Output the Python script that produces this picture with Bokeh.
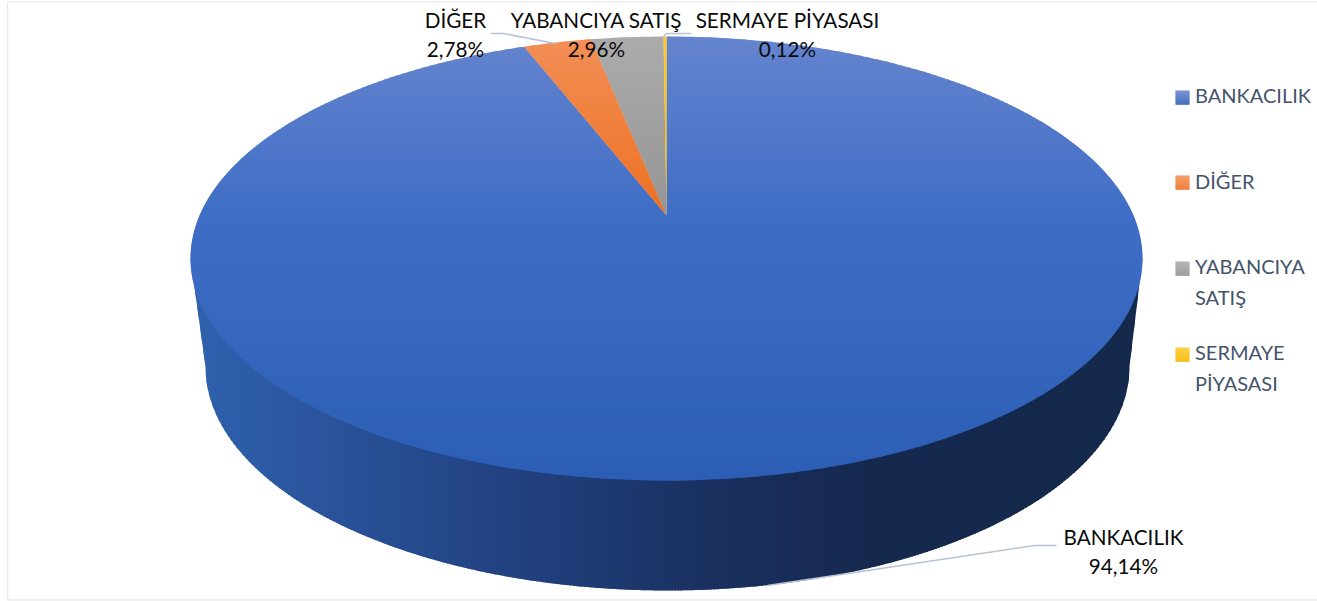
import math
import numpy as np
from bokeh.plotting import figure
from bokeh.models import Range1d, ColumnDataSource
from bokeh.core.properties import value
from bokeh.embed import file_html
from bokeh.resources import INLINE

# ---- data ----
categories = ["BANKACILIK", "DİĞER", "YABANCIYA SATIŞ", "SERMAYE PİYASASI"]
shares = [94.14, 2.78, 2.96, 0.12]
legend_lines = [["BANKACILIK"], ["DİĞER"], ["YABANCIYA", "SATIŞ"], ["SERMAYE", "PİYASASI"]]
slice_tops = ["#6584ce", "#f28f57", "#ababab", "#ffc933"]
slice_mids = ["#3f6ec6", "#ed7022", "#959595", "#f5b800"]
slice_bottoms = ["#2c5eb5", "#ed7022", "#959595", "#f5b800"]

# ---- layout (page pixels) ----
W, H = 1317, 601
APEX = (666.0, 215.0)
TOP_Y, BOT_Y = 36.0, 480.0
RIM_HALF_W = 476.0
c = ((BOT_Y - APEX[1]) - (APEX[1] - TOP_Y)) / ((BOT_Y - APEX[1]) + (APEX[1] - TOP_Y))
B = (APEX[1] - TOP_Y) * (1 + c)
A = RIM_HALF_W * math.sqrt(1 - c * c)


def rim(theta):
    u, v = math.sin(theta), math.cos(theta)
    w = 1 + c * v
    return APEX[0] + A * u / w, APEX[1] - B * v / w


def clip(poly, axis, lo, hi):
    def half(pts, keep, cut):
        out = []
        for i, a in enumerate(pts):
            b = pts[(i + 1) % len(pts)]
            ka, kb = keep(a), keep(b)
            if ka:
                out.append(a)
            if ka != kb:
                t = (cut - a[axis]) / (b[axis] - a[axis])
                out.append((a[0] + t * (b[0] - a[0]), a[1] + t * (b[1] - a[1])))
        return out
    pts = half(poly, lambda p: p[axis] >= lo, lo)
    return half(pts, lambda p: p[axis] <= hi, hi) if pts else []


def hex_rgb(h):
    return [int(h[i:i + 2], 16) for i in (1, 3, 5)]


def ramp(pos, stops_x, stops_c):
    rgb = [np.interp(pos, stops_x, [hex_rgb(s)[k] for s in stops_c]) for k in range(3)]
    return "#%02x%02x%02x" % tuple(int(round(x)) for x in rgb)


xs, ys, cols = [], [], []


def add_strips(poly, axis, lo, hi, step, color_at, overlap=1.5):
    v = lo
    while v < hi:
        piece = clip(poly, axis, v, v + step + overlap)
        if len(piece) >= 3:
            xs.append([q[0] for q in piece])
            ys.append([q[1] for q in piece])
            cols.append(color_at(v + step / 2))
        v += step


# side wall: lower rim joined to a smaller, lower ellipse
SIDE_CX, SIDE_CY, SIDE_RX, SIDE_RY = 667.0, 366.0, 462.0, 224.0
side = [(190.0, 258.0)]
for i in range(0, 181):
    a = math.pi - math.radians(i)
    side.append((SIDE_CX + SIDE_RX * math.cos(a), SIDE_CY + SIDE_RY * math.sin(a)))
side.append((1142.0, 258.0))
side_x = [190, 300, 480, 600, 680, 800, 880, 1143]
side_c = ["#2f62ae", "#2b569f", "#234485", "#1e3a72", "#1b3364", "#172b55", "#15294e", "#15294d"]
add_strips(side, 0, 188, 1144, 3, lambda v: ramp(v, side_x, side_c))

# top face: one polygon per slice, shaded in horizontal bands
start = 0.0
total = sum(shares)
for k, s in enumerate(shares):
    a0 = start / total * 2 * math.pi
    a1 = (start + s) / total * 2 * math.pi
    n = max(2, int(s * 4))
    poly = [APEX] + [rim(a0 + (a1 - a0) * j / n) for j in range(n + 1)]
    stops = [TOP_Y, APEX[1], BOT_Y]
    cs = [slice_tops[k], slice_mids[k], slice_bottoms[k]]
    add_strips(poly, 1, TOP_Y - 1, BOT_Y + 1, 2, lambda v, cs=cs: ramp(v, stops, cs), overlap=1.0)
    start += s

p = figure(width=W, height=H, x_range=Range1d(0, W), y_range=Range1d(H, 0),
           output_backend="svg", toolbar_location=None, min_border=0)
p.axis.visible = False
p.grid.visible = False
p.outline_line_color = None
p.background_fill_color = "white"
p.border_fill_color = "white"

# faint frame of the pasted picture
p.multi_line([[7, 1317], [7, 7], [7, 1317]], [[1.5, 1.5], [1.5, 599.5], [599.5, 599.5]],
             line_color="#ebebeb", line_width=1.5)

p.patches("x", "y", source=ColumnDataSource(dict(x=xs, y=ys, c=cols)),
          fill_color="c", line_color=None)

# leader lines
leaders_x = [[490, 503, 555], [691, 666, 663], [1056, 1034, 767]]
leaders_y = [[33, 33, 43], [33, 33, 36], [545, 545, 585]]
p.multi_line(leaders_x, leaders_y, line_color="#b7c3d5", line_width=1.5)

# data labels
label_pos = [(1123, 536.5), (455, 19.5), (596, 19.5), (787, 19.5)]
lx, ly, lt = [], [], []
for name, s, (x, y) in zip(categories, shares, label_pos):
    lx += [x, x]
    ly += [y, y + 29]
    lt += [name, ("%.2f%%" % s).replace(".", ",")]
p.text(lx, ly, text=lt, text_font=value("Lato"), text_font_size="20.7px",
       text_color="#0a0a0a", text_align="center", text_baseline="middle")

# legend
swatch_y = [90, 175, 261, 347]
text_y = [94, 180, 265, 351]
sx, sy, sc = [], [], []
for k, y in enumerate(swatch_y):
    for j in range(14):
        sx.append([1175, 1189, 1189, 1175])
        sy.append([y + j, y + j, y + j + 1.3, y + j + 1.3])
        sc.append(ramp(j, [0, 13], [slice_tops[k], slice_bottoms[k]]))
p.patches("x", "y", source=ColumnDataSource(dict(x=sx, y=sy, c=sc)),
          fill_color="c", line_color=None)
tx, ty, tt = [], [], []
for lines, y in zip(legend_lines, text_y):
    for j, t in enumerate(lines):
        tx.append(1194.5)
        ty.append(y + j * 31)
        tt.append(t)
p.text(tx, ty, text=tt, text_font=value("Lato"), text_font_size="20px",
       text_color="#44546a", text_align="left", text_baseline="middle")

open("out.html", "w").write(file_html(p, INLINE))
